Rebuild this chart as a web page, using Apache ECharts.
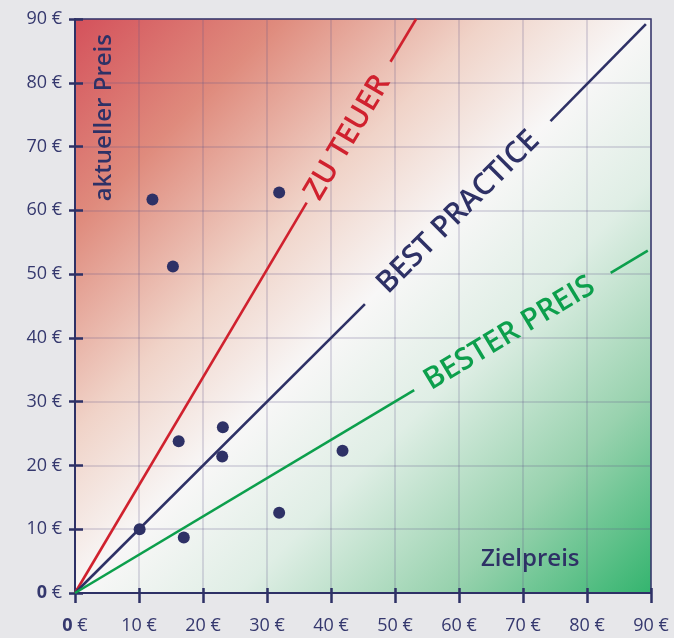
<!DOCTYPE html>
<html>
<head>
<meta charset="utf-8">
<script src="https://cdn.jsdelivr.net/npm/echarts@6/dist/echarts.min.js"></script>
<style>
html,body{margin:0;padding:0;background:#e7e7ea;}
#c{width:674px;height:638px;}
</style>
</head>
<body>
<div id="c"></div>
<script>
// ---- data ----
var axisTicks = [0, 10, 20, 30, 40, 50, 60, 70, 80, 90];
var points = [
  [12.1, 61.7], [15.3, 51.2], [31.9, 62.8],
  [16.2, 23.8], [23.1, 26.0], [23.0, 21.4],
  [10.1, 10.0], [17.0, 8.7], [31.9, 12.6], [41.8, 22.3]
];
var redSeg1 = [[0, 0], [36.2, 61.2]];
var redSeg2 = [[49.3, 83.3], [53.3, 90]];
var navySeg1 = [[0, 0], [45.3, 45.3]];
var navySeg2 = [[74.3, 74.0], [89.2, 89.2]];
var greenSeg1 = [[0, 0], [53.0, 31.8]];
var greenSeg2 = [[83.7, 50.2], [89.5, 53.7]];
var lineLabels = [
  {name: 'ZU TEUER', pos: [42.6, 71.4], angle: 59.3, color: '#d0212e'},
  {name: 'BEST PRACTICE', pos: [59.9, 59.7], angle: 45, color: '#2e3166'},
  {name: 'BESTER PREIS', pos: [67.9, 40.7], angle: 31, color: '#0c9f4c'}
];
var yTitle = 'aktueller Preis';
var xTitle = 'Zielpreis';

var NAVY = '#2e3166';
var chart = echarts.init(document.getElementById('c'));

function seg(d, color) {
  return {type: 'line', data: d, symbol: 'none', silent: true,
    lineStyle: {color: color, width: 2.6}, z: 3, animation: false};
}

var series = [
  seg(redSeg1, '#d0212e'), seg(redSeg2, '#d0212e'),
  seg(navySeg1, NAVY), seg(navySeg2, NAVY),
  seg(greenSeg1, '#0c9f4c'), seg(greenSeg2, '#0c9f4c'),
  {type: 'scatter', data: points, symbolSize: 12, itemStyle: {color: NAVY, opacity: 1}, z: 5, animation: false}
];

function axisLabel(margin) {
  return {
    margin: margin, color: '#35386e', fontFamily: 'Open Sans', fontSize: 18, fontWeight: 500,
    formatter: function (v) { return v === 0 ? '{b|0} €' : v + ' €'; },
    rich: {b: {fontWeight: 700, fontSize: 18, color: '#35386e', fontFamily: 'Open Sans'}}
  };
}

var baseGraphic = [
  {type: 'text', left: 92, top: 34, rotation: Math.PI / 2, z: 10,
    style: {text: yTitle, fill: NAVY, font: '600 24px "Open Sans"'}},
  {type: 'text', left: 481, top: 547, z: 10,
    style: {text: xTitle, fill: NAVY, font: '600 24px "Open Sans"'}}
];

chart.setOption({
  animation: false,
  backgroundColor: '#e7e7ea',
  grid: {
    left: 75, top: 19, width: 576, height: 574, show: true,
    borderColor: NAVY, borderWidth: 1.5,
    backgroundColor: new echarts.graphic.LinearGradient(0, 0, 1, 1, [
      {offset: 0, color: '#d4515b'},
      {offset: 0.18, color: '#df8b7d'},
      {offset: 0.36, color: '#f0d3c8'},
      {offset: 0.5, color: '#f8f7f7'},
      {offset: 0.64, color: '#dfeee5'},
      {offset: 0.82, color: '#98d2ae'},
      {offset: 1, color: '#33b46e'}
    ])
  },
  xAxis: [{
    type: 'value', min: 0, max: 90, interval: 10,
    axisLine: {show: true, lineStyle: {color: NAVY, width: 2}},
    axisTick: {show: true, length: 10, lineStyle: {color: NAVY, width: 2.5}},
    axisLabel: axisLabel(24),
    splitLine: {show: true, lineStyle: {color: 'rgba(95,85,135,0.26)', width: 1.5}}
  }, {
    type: 'value', min: 0, max: 90, interval: 10, position: 'bottom',
    axisLine: {show: false}, axisLabel: {show: false}, splitLine: {show: false},
    axisTick: {show: true, inside: true, length: 5, lineStyle: {color: NAVY, width: 2.5}}
  }],
  yAxis: [{
    type: 'value', min: 0, max: 90, interval: 10,
    axisLine: {show: true, lineStyle: {color: NAVY, width: 2}},
    axisTick: {show: true, length: 6, lineStyle: {color: NAVY, width: 2.5}},
    axisLabel: axisLabel(13),
    splitLine: {show: true, lineStyle: {color: 'rgba(95,85,135,0.26)', width: 1.5}}
  }, {
    type: 'value', min: 0, max: 90, interval: 10, position: 'left',
    axisLine: {show: false}, axisLabel: {show: false}, splitLine: {show: false},
    axisTick: {show: true, inside: true, length: 8, lineStyle: {color: NAVY, width: 2.5}}
  }],
  graphic: baseGraphic,
  series: series
});

var labelGraphics = lineLabels.map(function (l) {
  var p = chart.convertToPixel({gridIndex: 0}, l.pos);
  return {type: 'text', x: p[0], y: p[1], rotation: l.angle * Math.PI / 180, z: 10,
    style: {text: l.name, fill: l.color, font: '600 30px "Open Sans"',
      textAlign: 'center', textVerticalAlign: 'middle'}};
});
chart.setOption({graphic: baseGraphic.concat(labelGraphics)}, {replaceMerge: ['graphic']});
</script>
</body>
</html>
